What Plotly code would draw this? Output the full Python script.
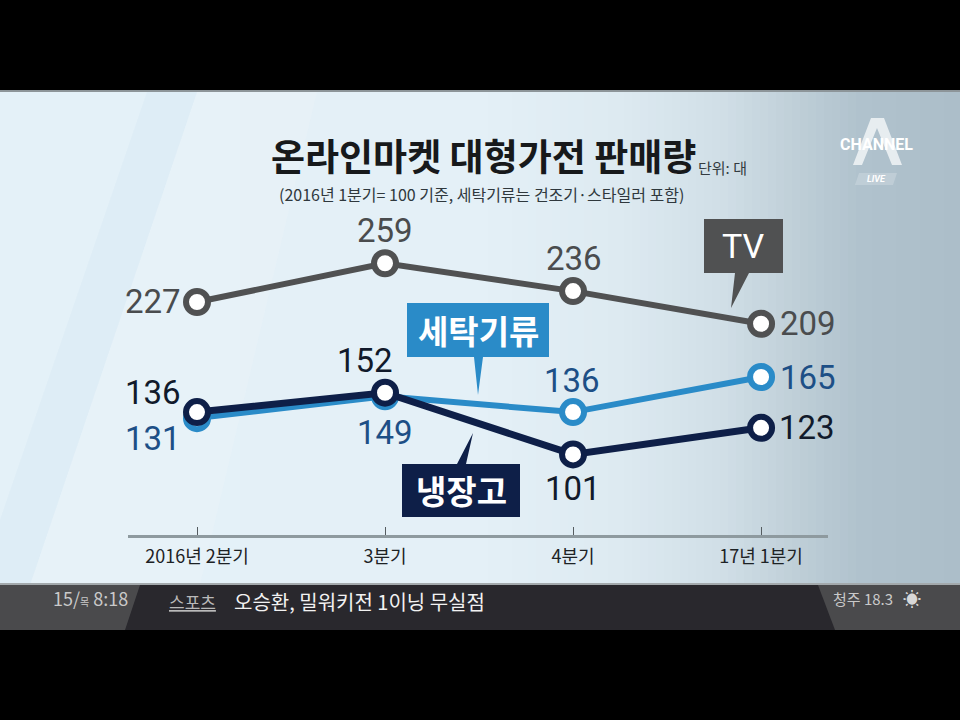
import plotly.graph_objects as go

W, H = 960, 720

quarters = ["2016년 2분기", "3분기", "4분기", "17년 1분기"]
tv = [227, 259, 236, 209]
washer = [131, 149, 136, 165]
fridge = [136, 152, 101, 123]

KR = "Noto Sans CJK KR"
NUM = "Roboto, sans-serif"
GRAY = "#505152"
BLUE = "#2a8bc8"
NAVY = "#0e1f48"

# background gradient stops, x pixel and rgb
bg_stops = [
    (0, (228, 241, 248)),
    (480, (228, 240, 247)),
    (620, (221, 234, 241)),
    (720, (209, 223, 231)),
    (800, (190, 206, 215)),
    (860, (176, 194, 205)),
    (960, (172, 190, 201)),
]


def px(x):
    return x / W


def py(y):
    return 1 - y / H


def bg_color(x):
    for (x0, c0), (x1, c1) in zip(bg_stops, bg_stops[1:]):
        if x0 <= x <= x1:
            t = (x - x0) / (x1 - x0)
            return "rgb(%d,%d,%d)" % tuple(round(a + (b - a) * t) for a, b in zip(c0, c1))
    return "rgb(172,190,201)"


def rect(x0, y0, x1, y1, color):
    return dict(
        type="rect", xref="paper", yref="paper", layer="below",
        x0=px(x0), x1=px(x1), y0=py(y1), y1=py(y0),
        fillcolor=color, line_width=0,
    )


def poly(points, color, layer="above", line=None):
    # paper coords, so the callouts stay put whatever the axes do
    path = "M " + " L ".join(f"{px(x):.5f},{py(y):.5f}" for x, y in points) + " Z"
    shape = dict(type="path", xref="paper", yref="paper", layer=layer, path=path, fillcolor=color, line_width=0)
    if line:
        shape["line"] = dict(color=line, width=1)
    return shape


def text(x, y, s, size, color, font=KR, anchor="center"):
    return dict(
        xref="paper", yref="paper", x=px(x), y=py(y), text=s, showarrow=False,
        xanchor=anchor, yanchor="middle", font=dict(family=font, size=size, color=color),
    )


shapes = [rect(0, 0, W, H, "#000000")]
for left in range(0, W, 8):
    shapes.append(rect(left, 91, left + 8, 585, bg_color(left + 4)))
shapes.append(rect(0, 90, W, 92, "#8d9599"))

# pale diagonal bands on the left of the backdrop
shapes.append(poly([(147, 92), (197, 92), (30, 585), (0, 585), (0, 520)], "rgba(190,220,238,0.16)", "below"))
shapes.append(poly([(197, 92), (317, 92), (200, 585), (30, 585)], "rgba(240,248,252,0.22)", "below"))

# ticker bar
shapes.append(rect(0, 584, W, 630, "#4a4a4c"))
shapes.append(poly([(140, 585), (818, 585), (835, 630), (125, 630)], "#29282d", "below"))
shapes.append(rect(0, 583, W, 585, "#a3a9ac"))

# callouts
shapes += [
    poly([(704, 219), (783, 219), (783, 273), (749, 273), (731, 308), (735, 273), (704, 273)], GRAY),
    poly([(407, 303), (549, 303), (549, 357), (483, 357), (478, 395), (474, 357), (407, 357)], BLUE),
    poly([(402, 464), (457, 464), (473, 433), (466, 464), (520, 464), (520, 517), (402, 517)], NAVY),
]

# channel logo
shapes += [
    poly([(871, 118), (884, 118), (902, 165), (892, 165), (877, 128), (862, 165), (853, 165)], "rgba(255,255,255,0.7)"),
    poly([(859, 173), (897, 173), (893, 185), (855, 185)], "rgba(255,255,255,0.2)", line="rgba(255,255,255,0.8)"),
]

annotations = [
    text(483, 155, "<b>온라인마켓 대형가전 판매량</b>", 37, "#17191b"),
    text(696, 167, "단위: 대", 15, "#333b40", anchor="left"),
    text(481, 194, "(2016년 1분기= 100 기준, 세탁기류는 건조기·스타일러 포함)", 16, "#2f383d"),
    text(743, 246, "TV", 34, "#ffffff", font=NUM),
    text(478, 330, "<b>세탁기류</b>", 33, "#ffffff"),
    text(461, 490, "<b>냉장고</b>", 33, "#ffffff"),
    text(876, 145, "<b>CHANNEL</b>", 16, "#ffffff", font=NUM),
    text(876, 179, "<i><b>LIVE</b></i>", 9, "#ffffff", font=NUM),
    text(90, 598, "15/<span style='font-size:10px'>목</span> 8:18", 18, "#c9c9c9"),
    text(192, 601, "<u>스포츠</u>", 17, "#b9b9b9"),
    text(232, 601, "오승환, 밀워키전 1이닝 무실점", 20, "#f2f2f2", anchor="left"),
    text(863, 598, "청주 18.3", 15, "#c9c9c9"),
    text(912, 598, "☀", 18, "#d8d8d8"),
]

fig = go.Figure()

series = [
    ("TV", tv, GRAY, 6, "#4a4c4e", [(-44, 0), (0, 33), (1, 33), (47, 0)]),
    ("세탁기류", washer, BLUE, 6, "#1d4f86", [(-44, -20), (0, -36), (-1, 32), (47, 0)]),
    ("냉장고", fridge, NAVY, 7, "#111a2b", [(-44, 20), (-20, 32), (0, -34), (46, 0)]),
]
for name, values, color, width, label_color, offsets in series:
    fig.add_trace(
        go.Scatter(
            x=quarters,
            y=values,
            mode="lines+markers",
            name=name,
            line=dict(color=color, width=width),
            marker=dict(size=22, color="#ffffff", line=dict(color=color, width=6)),
            hoverinfo="skip",
        )
    )
    for quarter, value, (dx, dy) in zip(quarters, values, offsets):
        annotations.append(
            dict(
                x=quarter, y=value, xref="x", yref="y", text=str(value), showarrow=False,
                xshift=dx, yshift=dy, font=dict(family=NUM, size=33, color=label_color),
            )
        )

fig.update_layout(
    width=W,
    height=H,
    margin=dict(l=0, r=0, t=0, b=0),
    showlegend=False,
    paper_bgcolor="#000000",
    plot_bgcolor="rgba(0,0,0,0)",
    shapes=shapes,
    annotations=annotations,
)
fig.update_xaxes(
    type="category",
    categoryorder="array",
    categoryarray=quarters,
    domain=[px(128), px(828)],
    range=[-0.367, 3.356],
    showgrid=False,
    zeroline=False,
    showline=True,
    linecolor="#8e9a9f",
    linewidth=3,
    ticks="inside",
    ticklen=8,
    tickwidth=1,
    tickcolor="#555c60",
    ticklabelstandoff=3,
    tickfont=dict(family=KR, size=18, color="#1d2225"),
)
fig.update_yaxes(
    domain=[py(535), py(200)],
    range=[34.4, 311.3],
    visible=False,
)

fig.write_html(
    "out.html",
    config={"displayModeBar": False},
    post_script="document.body.style.margin='0';",
)
